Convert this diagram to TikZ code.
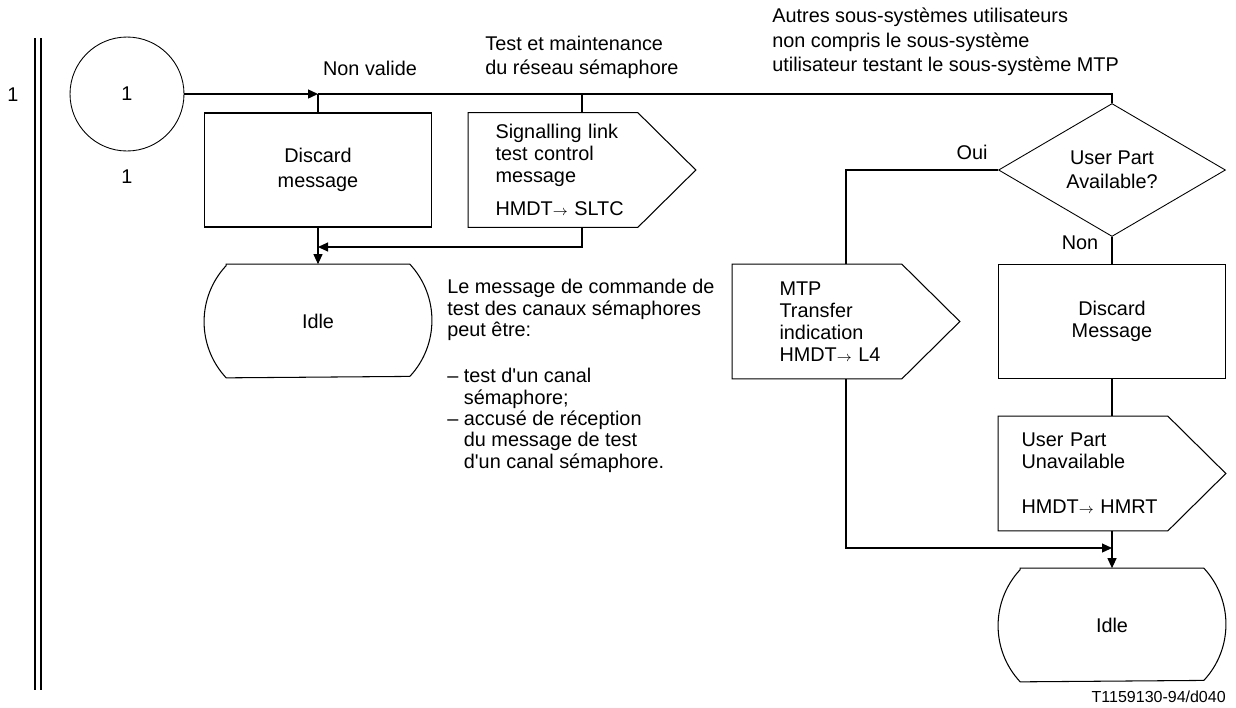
\documentclass[tikz,border=0pt]{standalone}
\usepackage{fontspec}
\setmainfont{Liberation Sans}
\usetikzlibrary{shapes.geometric,arrows.meta,calc}

\begin{document}
\begin{tikzpicture}[x=0.02cm,y=-0.02cm,
          every node/.style={font=\fontsize{11.3}{12.6}\selectfont},
          flow/.style={line width=0.6pt},
          arr/.style={flow,-{Triangle[length=0.2cm,width=0.18cm]}},
          conn/.style={circle,draw,line width=0.5pt,minimum size=2.28cm,inner sep=0pt},
          task/.style={draw,line width=0.6pt,minimum width=4.54cm,minimum height=2.28cm,
            inner sep=0pt,align=center},
          msgout/.style={minimum width=4.54cm,minimum height=2.28cm,inner ysep=0pt,align=left},
          state/.style={minimum width=4.54cm,minimum height=2.26cm,inner sep=0pt},
          decision/.style={diamond,draw,line width=0.5pt,minimum width=4.54cm,
            minimum height=2.66cm,inner sep=0pt,align=center},
          lbl/.style={align=left,inner sep=0pt}]
        \useasboundingbox (0,0) rectangle (1236,707);
        % page margin bars
        \node (pg) at (13,95) {1};
        \draw[line width=0.9pt] (35,38) -- (35,690);
        \draw[line width=0.9pt] (41,38) -- (41,690);
        % left column
        \node[conn] (c1) at (127,94) {1};
        \node (c1b) at (127,177) {1};
        \coordinate (j0) at (318,94);
        \node[task,font=\fontsize{11.3}{14}\selectfont] (d1) at (318,170) {Discard\\message};
        \node[msgout,inner xsep=0.54cm,text width=3.46cm] (s1) at (582,170)
          {Signalling link\\test control\\message\\[6pt]HMDT{\footnotesize$\rightarrow$} SLTC};
        \node[state] (i1) at (318,321) {Idle};
        \coordinate (j1) at (318,247);
        % right column
        \node[decision,font=\fontsize{11.3}{13.5}\selectfont] (dec) at (1112,170) {User Part\\Available?};
        \node[msgout,inner xsep=0.94cm,text width=2.66cm] (m1) at (846,321.5)
          {MTP\\Transfer\\indication\\HMDT{\footnotesize$\rightarrow$} L4};
        \node[task,font=\fontsize{11.3}{12.4}\selectfont] (d2) at (1112,321.5) {Discard\\Message};
        \node[msgout,inner xsep=0.46cm,text width=3.62cm] (u1) at (1112,473.5)
          {User Part\\Unavailable\\[13pt]HMDT{\footnotesize$\rightarrow$} HMRT};
        \node[state] (i2) at (1112,625) {Idle};
        \coordinate (j2) at (1112,548);
        % labels
        \node[lbl] (nv) at (370,68) {Non valide};
        \node[lbl,anchor=west,font=\fontsize{11.3}{13.8}\selectfont] (tm) at (485,57)
          {Test et maintenance\\du réseau sémaphore};
        \node[lbl,anchor=west,font=\fontsize{11.3}{13.9}\selectfont] (au) at (772,42)
          {Autres sous-systèmes utilisateurs\\non compris le sous-système\\utilisateur testant le sous-système MTP};
        \node[lbl] (oui) at (972,152) {Oui};
        \node[lbl] (non) at (1080,243) {Non};
        \node[lbl,anchor=north west,font=\fontsize{11.3}{12.2}\selectfont] (note) at (447,279)
          {Le message de commande de\\test des canaux sémaphores\\peut être:\\[14pt]
           – test d\textquotesingle un canal\\\phantom{– }sémaphore;\\– accusé de réception\\
           \phantom{– }du message de test\\\phantom{– }d\textquotesingle un canal sémaphore.};
        \node[lbl,anchor=east,font=\fontsize{9.1}{11}\selectfont] (ref) at (1226,697) {T1159130-94/d040};
        % output symbols
        \draw[flow] (s1.north west) -- ($(s1.north east)+(-58,0)$) -- (s1.east)
          -- ($(s1.south east)+(-58,0)$) -- (s1.south west) -- cycle;
        \draw[flow] (m1.north west) -- ($(m1.north east)+(-58,0)$) -- (m1.east)
          -- ($(m1.south east)+(-58,0)$) -- (m1.south west) -- cycle;
        \draw[flow] (u1.north west) -- ($(u1.north east)+(-58,0)$) -- (u1.east)
          -- ($(u1.south east)+(-58,0)$) -- (u1.south west) -- cycle;
        % state symbols
        \draw[flow] ($(i1.north west)+(22,0)$) -- ($(i1.north east)+(-22,0)$)
          arc[start angle=43,end angle=-43,radius=1.646cm]
          -- ($(i1.south west)+(22,0)$) arc[start angle=223,end angle=137,radius=1.646cm] -- cycle;
        \draw[flow] ($(i2.north west)+(22,0)$) -- ($(i2.north east)+(-22,0)$)
          arc[start angle=43,end angle=-43,radius=1.646cm]
          -- ($(i2.south west)+(22,0)$) arc[start angle=223,end angle=137,radius=1.646cm] -- cycle;
        % connectors
        \draw[arr,line width=0.8pt] (c1) -- (j0);
        \draw[flow] (j0) -- (d1.north);
        \draw[flow] (j0) -- (dec.north |- j0) -- (dec.north);
        \draw[flow] (s1.north |- j0) -- (s1.north);
        \draw[arr] (s1.south) |- (j1);
        \draw[arr] (d1.south) -- (i1.north);
        \draw[flow] (dec.west) -| (m1.north);
        \draw[flow] (dec.south) -- (d2.north);
        \draw[flow] (d2.south) -- (u1.north);
        \draw[arr] (m1.south) |- (j2);
        \draw[arr] (u1.south) -- (i2.north);
      \end{tikzpicture}
\end{document}
